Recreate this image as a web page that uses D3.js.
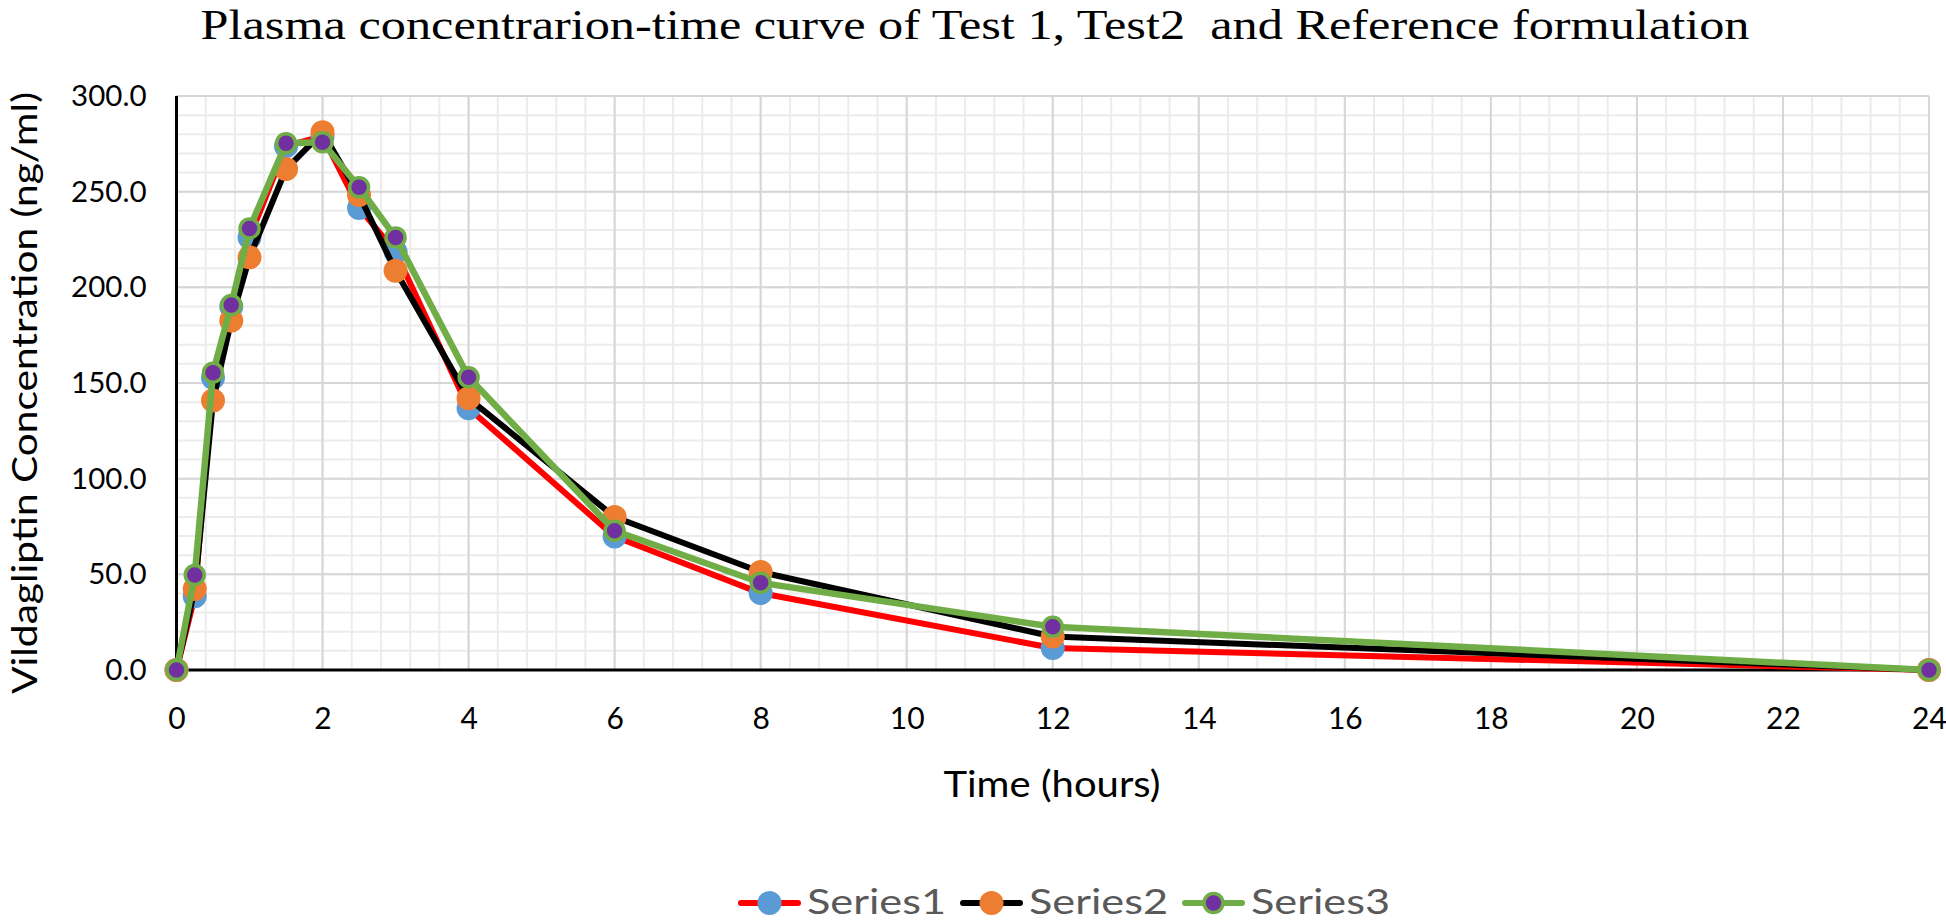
<!DOCTYPE html>
<html>
<head>
<meta charset="utf-8">
<script src="https://cdn.jsdelivr.net/npm/d3@7"></script>
<style>
  html, body { margin: 0; padding: 0; background: #fff; }
  svg { display: block; }
</style>
</head>
<body>
<svg id="chart" width="1946" height="921"></svg>
<script>
// ---- data ----
const times = [0, 0.25, 0.5, 0.75, 1, 1.5, 2, 2.5, 3, 4, 6, 8, 12, 24];
const series1 = [0, 38.5, 152.8, 190.0, 226.0, 273.8, 279.0, 241.5, 218.5, 136.8, 69.8, 40.2, 11.5, 0];
const series2 = [0, 42.3, 140.8, 182.6, 215.7, 261.8, 281.0, 248.3, 208.7, 142.0, 80.0, 51.2, 17.5, 0];
const series3 = [0, 49.7, 155.4, 190.8, 230.8, 275.3, 275.8, 252.3, 226.1, 153.0, 72.8, 45.6, 22.6, 0];
const seriesNames = ["Series1", "Series2", "Series3"];
const xTicks = [0, 2, 4, 6, 8, 10, 12, 14, 16, 18, 20, 22, 24];
const yTicks = [0, 50, 100, 150, 200, 250, 300];
const titleText = "Plasma concentrarion-time curve of Test 1, Test2  and Reference formulation";
const xTitle = "Time (hours)";
const yTitle = "Vildagliptin Concentration (ng/ml)";

// ---- styles ----
const styles = [
  { line: "#FF0000", fill: "#5B9BD5", stroke: "none", r: 12, sw: 0, lw: 6 },
  { line: "#000000", fill: "#ED7D31", stroke: "none", r: 12, sw: 0, lw: 6 },
  { line: "#70AD47", fill: "#7030A0", stroke: "#70AD47", r: 9.5, sw: 3.5, lw: 6.5 }
];

const svg = d3.select("#chart");
svg.append("rect").attr("width", 1946).attr("height", 921).attr("fill", "#fff");

const x = d3.scaleLinear().domain([0, 24]).range([176.5, 1929]);
const y = d3.scaleLinear().domain([0, 300]).range([670, 96]);

// minor gridlines
const g = svg.append("g");
g.selectAll("line.minx").data(d3.range(0, 24.0001, 0.4)).join("line")
  .attr("x1", d => x(d)).attr("x2", d => x(d)).attr("y1", y(0)).attr("y2", y(300))
  .attr("stroke", "#ececec").attr("stroke-width", 2);
g.selectAll("line.miny").data(d3.range(0, 300.001, 10)).join("line")
  .attr("y1", d => y(d)).attr("y2", d => y(d)).attr("x1", x(0)).attr("x2", x(24))
  .attr("stroke", "#ececec").attr("stroke-width", 2);
// major gridlines
g.selectAll("line.majx").data(xTicks).join("line")
  .attr("x1", d => x(d)).attr("x2", d => x(d)).attr("y1", y(0)).attr("y2", y(300))
  .attr("stroke", "#d6d6d6").attr("stroke-width", 2);
g.selectAll("line.majy").data(yTicks).join("line")
  .attr("y1", d => y(d)).attr("y2", d => y(d)).attr("x1", x(0)).attr("x2", x(24))
  .attr("stroke", "#d6d6d6").attr("stroke-width", 2);

// axes (labels)
const fontSans = "Lato, 'Open Sans', sans-serif";
const xAxis = svg.append("g").attr("transform", `translate(0,${y(0)})`)
  .call(d3.axisBottom(x).tickValues(xTicks).tickSize(0).tickPadding(38).tickFormat(d3.format("d")));
xAxis.select(".domain").remove();
xAxis.selectAll("text").attr("font-family", fontSans).attr("font-size", 30).attr("fill", "#000");

const yAxis = svg.append("g").attr("transform", `translate(${x(0)},0)`)
  .call(d3.axisLeft(y).tickValues(yTicks).tickSize(0).tickPadding(30).tickFormat(d3.format(".1f")));
yAxis.select(".domain").remove();
yAxis.selectAll("text").attr("font-family", fontSans).attr("font-size", 29.5).attr("fill", "#000");

// axis lines
svg.append("line").attr("x1", x(0)).attr("x2", x(0)).attr("y1", y(300)).attr("y2", y(0) + 1.5)
  .attr("stroke", "#000").attr("stroke-width", 3);
svg.append("line").attr("x1", x(0) - 1.5).attr("x2", x(24)).attr("y1", y(0)).attr("y2", y(0))
  .attr("stroke", "#000").attr("stroke-width", 3);

// series
const allSeries = [series1, series2, series3];
const lineGen = d3.line().x(d => x(d[0])).y(d => y(d[1]));
allSeries.forEach((vals, i) => {
  const st = styles[i];
  const pts = times.map((t, j) => [t, vals[j]]);
  svg.append("path").datum(pts).attr("d", lineGen)
    .attr("fill", "none").attr("stroke", st.line).attr("stroke-width", st.lw)
    .attr("stroke-linejoin", "round").attr("stroke-linecap", "round");
  svg.append("g").selectAll("circle").data(pts).join("circle")
    .attr("cx", d => x(d[0])).attr("cy", d => y(d[1])).attr("r", st.r)
    .attr("fill", st.fill).attr("stroke", st.stroke).attr("stroke-width", st.sw);
});

// titles
svg.append("text").attr("x", 975).attr("y", 39).attr("text-anchor", "middle")
  .attr("font-family", "'Liberation Serif', 'DejaVu Serif', serif").attr("font-size", 42)
  .attr("textLength", 1549).attr("lengthAdjust", "spacingAndGlyphs")
  .style("white-space", "pre")
  .attr("fill", "#000").text(titleText);

svg.append("text").attr("x", 1052).attr("y", 797).attr("text-anchor", "middle")
  .attr("font-family", fontSans).attr("font-size", 37)
  .attr("textLength", 217).attr("lengthAdjust", "spacingAndGlyphs")
  .attr("fill", "#000").text(xTitle);

svg.append("text").attr("transform", `translate(37,393) rotate(-90)`)
  .attr("text-anchor", "middle")
  .attr("font-family", fontSans).attr("font-size", 35)
  .attr("textLength", 602).attr("lengthAdjust", "spacingAndGlyphs")
  .attr("fill", "#000").text(yTitle);

// legend
const legendX0 = 741, legendStep = 222, legendY = 903;
const leg = svg.append("g").selectAll("g").data(seriesNames).join("g")
  .attr("transform", (d, i) => `translate(${legendX0 + i * legendStep},${legendY})`);
leg.append("line").attr("x1", 0).attr("x2", 57).attr("y1", 0).attr("y2", 0)
  .attr("stroke", (d, i) => styles[i].line).attr("stroke-width", 6).attr("stroke-linecap", "round");
leg.append("circle").attr("cx", 28.5).attr("cy", 0).attr("r", (d, i) => styles[i].r)
  .attr("fill", (d, i) => styles[i].fill).attr("stroke", (d, i) => styles[i].stroke)
  .attr("stroke-width", (d, i) => styles[i].sw);
leg.append("text").attr("x", 66).attr("y", 11).attr("font-family", fontSans).attr("font-size", 34)
  .attr("textLength", 139).attr("lengthAdjust", "spacingAndGlyphs")
  .attr("fill", "#595959").text(d => d);
</script>
</body>
</html>
